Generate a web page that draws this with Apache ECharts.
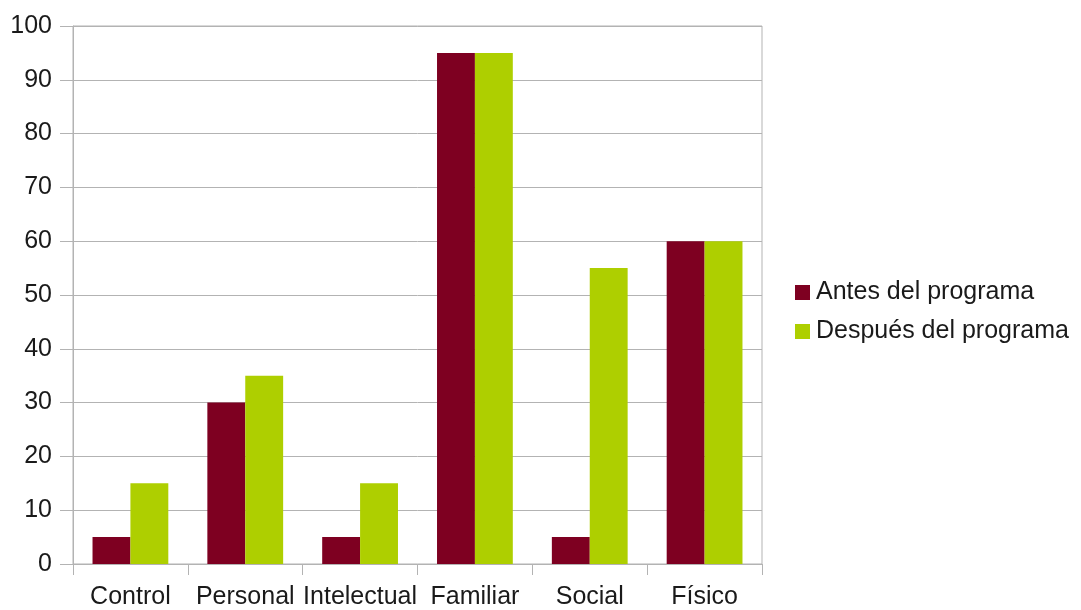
<!DOCTYPE html>
<html>
<head>
<meta charset="utf-8">
<script src="https://cdn.jsdelivr.net/npm/echarts@6/dist/echarts.min.js"></script>
<style>
  html, body { margin: 0; padding: 0; background: #fff; }
  #chart { width: 1081px; height: 610px; }
</style>
</head>
<body>
<div id="chart"></div>
<script>
// Categories and values for each series
const categories = ['Control', 'Personal', 'Intelectual', 'Familiar', 'Social', 'Físico'];
const antes = [5, 30, 5, 95, 5, 60];
const despues = [15, 35, 15, 95, 55, 60];
const seriesNames = ['Antes del programa', 'Después del programa'];

const gridColor = '#b3b3b3';
const textColor = '#1a1a1a';
const font = '"Liberation Sans", Arial, sans-serif';

const chart = echarts.init(document.getElementById('chart'));
chart.setOption({
  animation: false,
  grid: {
    left: 73, right: 319, top: 26, bottom: 46,
    show: true, borderColor: gridColor, borderWidth: 1, backgroundColor: 'transparent'
  },
  legend: {
    orient: 'vertical',
    left: 790, top: 275,
    itemWidth: 15, itemHeight: 15, itemGap: 14,
    icon: 'rect',
    textStyle: { fontSize: 25, color: textColor, fontFamily: font, padding: [0, 0, 0, 1] },
    data: seriesNames
  },
  xAxis: {
    type: 'category',
    data: categories,
    axisLine: { lineStyle: { color: gridColor, width: 1 } },
    axisTick: { show: true, length: 11, lineStyle: { color: gridColor } },
    axisLabel: { interval: 0, fontSize: 25, color: textColor, fontFamily: font, margin: 21 }
  },
  yAxis: {
    type: 'value',
    min: 0, max: 100, interval: 10,
    axisLine: { show: true, lineStyle: { color: gridColor, width: 1 } },
    axisTick: { show: true, length: 13, lineStyle: { color: gridColor } },
    splitLine: { lineStyle: { color: gridColor, width: 1 } },
    axisLabel: { fontSize: 25, color: textColor, fontFamily: font, margin: 21 }
  },
  series: [
    {
      name: seriesNames[0], type: 'bar', data: antes,
      barGap: '0%', barCategoryGap: '34%',
      itemStyle: { color: '#7e0021' }
    },
    {
      name: seriesNames[1], type: 'bar', data: despues,
      barGap: '0%', barCategoryGap: '34%',
      itemStyle: { color: '#aecf00' }
    }
  ]
});
</script>
</body>
</html>
